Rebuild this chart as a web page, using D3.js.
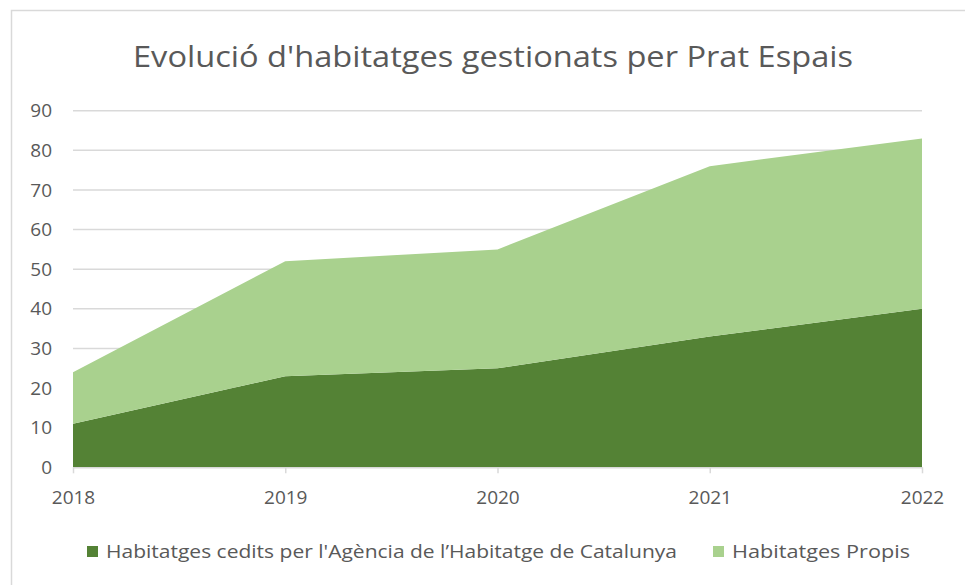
<!DOCTYPE html>
<html>
  <head>
      <meta charset="utf-8">
      <title>Evolució d'habitatges</title>
      <script type="text/javascript" src="https://d3js.org/d3.v7.min.js"></script>
      <style>
        body { margin: 0; background: #fff; }
        text { font-family: "Open Sans", "Noto Sans", sans-serif; fill: #595959; }
      </style>
  </head>
  <body>

    <script type="text/javascript">
    var w = 965;
    var h = 585;

    // dades
    var years = ["2018", "2019", "2020", "2021", "2022"];
    var cedits = [11, 23, 25, 33, 40];
    var propis = [13, 29, 30, 43, 43];
    var seriesNames = ["Habitatges cedits per l'Agència de l\u2019Habitatge de Catalunya", "Habitatges Propis"];
    var seriesColors = ["#548235", "#A9D18E"];
    var yTicks = [0, 10, 20, 30, 40, 50, 60, 70, 80, 90];

    var rows = years.map(function(y, i){
      return { year: y, cedits: cedits[i], propis: propis[i] };
    });

    // "top" is window.top, so other names here
    var plotLeft = 73, plotRight = 922, plotTop = 110.7, plotBottom = 467.3;

    var xScale = d3.scalePoint()
                   .domain(years)
                   .range([plotLeft, plotRight]);
    var yScale = d3.scaleLinear()
                   .domain([0, 90])
                   .range([plotBottom, plotTop]);

    var svg = d3.select("body")
                .append("svg")
                .attr("width", w)
                .attr("height", h);

    // vora del gràfic
    svg.append("rect")
       .attr("x", 11.5).attr("y", 10.5)
       .attr("width", 1000).attr("height", 1000)
       .attr("fill", "none")
       .attr("stroke", "#d9d9d9")
       .attr("stroke-width", 1.5);

    // títol
    svg.append("text")
       .attr("x", 493)
       .attr("y", 67)
       .attr("text-anchor", "middle")
       .attr("font-size", "29px")
       .attr("textLength", 720)
       .attr("lengthAdjust", "spacingAndGlyphs")
       .text("Evolució d'habitatges gestionats per Prat Espais");

    // línies de graella
    svg.selectAll("line.grid")
       .data(yTicks.slice(1))
       .enter()
       .append("line")
       .attr("class", "grid")
       .attr("x1", plotLeft).attr("x2", plotRight)
       .attr("y1", function(d){ return yScale(d); })
       .attr("y2", function(d){ return yScale(d); })
       .attr("stroke", "#d9d9d9")
       .attr("stroke-width", 1.5);

    // àrees apilades
    var stack = d3.stack().keys(["cedits", "propis"]);
    var layers = stack(rows);
    var area = d3.area()
                 .x(function(d){ return xScale(d.data.year); })
                 .y0(function(d){ return yScale(d[0]); })
                 .y1(function(d){ return yScale(d[1]); });

    svg.selectAll("path.layer")
       .data(layers)
       .enter()
       .append("path")
       .attr("class", "layer")
       .attr("d", area)
       .attr("fill", function(d, i){ return seriesColors[i]; });

    // eix Y
    var yAxis = d3.axisLeft(yScale).tickValues(yTicks).tickSize(0).tickPadding(0);
    var gy = svg.append("g")
                .attr("transform", "translate(52,0)")
                .call(yAxis);
    gy.select(".domain").remove();
    gy.selectAll("text")
      .attr("font-size", "19px")
      .attr("font-family", null)
      .style("fill", "#595959");

    // eix X
    var xAxis = d3.axisBottom(xScale).tickSize(6).tickPadding(17).tickSizeOuter(0);
    var gx = svg.append("g")
                .attr("transform", "translate(0," + plotBottom + ")")
                .call(xAxis);
    gx.select(".domain").attr("stroke", "#d9d9d9").attr("stroke-width", 1.5);
    gx.selectAll("line").attr("stroke", "#d9d9d9").attr("stroke-width", 1.5);
    gx.selectAll("text")
      .attr("font-size", "19px")
      .attr("font-family", null)
      .style("fill", "#595959");

    // llegenda
    var legendX = [87, 713];
    var leg = svg.selectAll("g.leg")
                 .data(seriesNames)
                 .enter()
                 .append("g")
                 .attr("class", "leg")
                 .attr("transform", function(d, i){ return "translate(" + legendX[i] + ",552)"; });
    leg.append("rect")
       .attr("x", 0).attr("y", -6)
       .attr("width", 11).attr("height", 11)
       .attr("fill", function(d, i){ return seriesColors[i]; });
    leg.append("text")
       .attr("x", 19)
       .attr("y", 0)
       .attr("dy", "0.35em")
       .attr("font-size", "18px")
       .attr("textLength", function(d, i){ return i === 0 ? 571 : 178; })
       .attr("lengthAdjust", "spacingAndGlyphs")
       .text(function(d){ return d; });

    </script>

  </body>

</html>
